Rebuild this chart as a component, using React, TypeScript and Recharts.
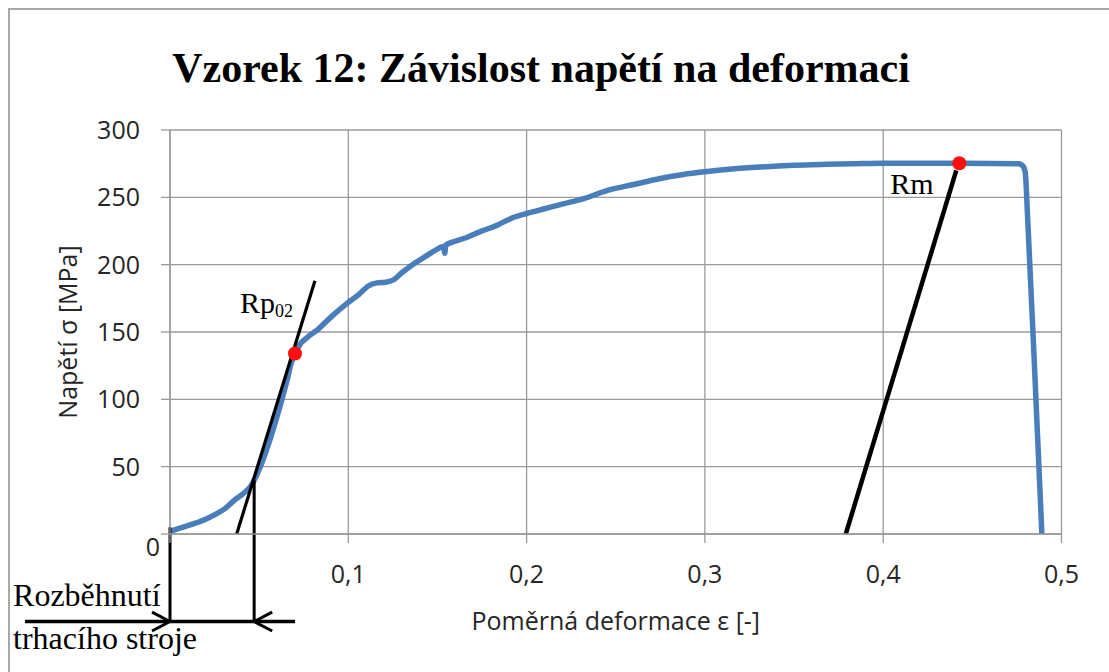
import React from 'react';
import {
  ComposedChart,
  Line,
  XAxis,
  YAxis,
  CartesianGrid,
  ReferenceLine,
  ReferenceDot,
  Label,
} from 'recharts';

// ---- data ----
const strain = [
  0, 0.006, 0.013, 0.02, 0.026, 0.031, 0.036, 0.041, 0.045, 0.048, 0.051, 0.054, 0.057, 0.06,
  0.063, 0.066, 0.068, 0.0701, 0.073, 0.077, 0.083, 0.091, 0.1, 0.106, 0.111, 0.116, 0.121,
  0.125, 0.13, 0.136, 0.142, 0.148, 0.1535, 0.1541, 0.1547, 0.159, 0.166, 0.174, 0.183, 0.1925,
  0.2, 0.21, 0.22, 0.232, 0.245, 0.26, 0.275, 0.288, 0.3, 0.315, 0.331, 0.35, 0.368, 0.385, 0.4,
  0.42, 0.4427, 0.46, 0.476, 0.4785, 0.4797, 0.481, 0.485, 0.489,
];
const stress = [
  2, 4.5, 7.5, 11, 15, 19, 25, 30, 35, 42, 51, 62, 74, 87,
  101, 116, 127, 134, 141, 146, 152, 162, 172, 178, 184, 186.5, 187,
  188.5, 194, 200, 205, 210, 213.5, 208.5, 214.5, 217, 220, 224.5, 229, 235,
  238, 241.5, 245, 249, 255, 259.5, 264, 267, 269, 271, 272.5, 273.8, 274.5, 275, 275.3,
  275.3, 275.3, 275.2, 275, 273, 268, 235, 120, 0,
];
const xTicks = [0, 0.1, 0.2, 0.3, 0.4, 0.5];
const yTicks = [0, 50, 100, 150, 200, 250, 300];

const rp02Point = { x: 0.0701, y: 134 };
const rmPoint = { x: 0.4427, y: 275.3 };
const rpTangent = [{ x: 0.0374, y: 0 }, { x: 0.0813, y: 188 }];
const rmTangent = [{ x: 0.379, y: 0 }, { x: 0.441, y: 270 }];
const startLeft = [{ x: 0, y: 5 }, { x: 0, y: -65 }];
const startRight = [{ x: 0.0472, y: 40 }, { x: 0.0472, y: -65 }];
const startArrow = [{ x: -0.0813, y: -65 }, { x: 0.0701, y: -65 }];

const curve = strain.map((x, i) => ({ x, y: stress[i] }));

const GRID = '#9a9a9a';
const TXT = '#262626';
const SANS = 'Open Sans, sans-serif';
const SERIF = 'Liberation Serif, Times New Roman, serif';

function YTick(props: any) {
  const { x, y, payload } = props;
  if (payload.value === 0) {
    return (
      <text x={x + 20} y={y + 13} dy="0.355em" textAnchor="end" fill={TXT} fontSize={25} fontFamily={SANS}>
        0
      </text>
    );
  }
  return (
    <text x={x} y={y} dy="0.355em" textAnchor="end" fill={TXT} fontSize={25} fontFamily={SANS}>
      {payload.value}
    </text>
  );
}

const fmtX = (v: number) => (v === 0 ? '' : String(v).replace('.', ','));

// arrowhead spread (data units)
const AH_DX = 0.0101;
const AH_DY = 7;

export default function App() {
  const tip1 = startLeft[0].x;
  const tip2 = startRight[0].x;
  const ay = startArrow[0].y;
  return (
    <div
      style={{
        position: 'fixed',
        left: 0,
        top: 0,
        width: 1109,
        height: 672,
        overflow: 'hidden',
        background: '#fff',
      }}
    >
      <style>{'html, body { overflow: hidden !important; }'}</style>
      <div
        style={{
          position: 'absolute',
          left: 8,
          top: 8,
          width: 1300,
          height: 900,
          borderLeft: '2px solid #a8a8a8',
          borderTop: '2px solid #a8a8a8',
        }}
      />
      <div
        style={{
          position: 'absolute',
          left: 0,
          top: 47,
          width: 1082,
          textAlign: 'center',
          fontFamily: SERIF,
          fontWeight: 'bold',
          fontSize: 42,
          lineHeight: '42px',
          color: '#000',
          whiteSpace: 'nowrap',
        }}
      >
        Vzorek 12: Závislost napětí na deformaci
      </div>
      <div style={{ position: 'absolute', left: 0, top: 0 }}>
        <ComposedChart
          width={1109}
          height={672}
          data={curve}
          margin={{ top: 130, right: 47.5, bottom: 78, left: 90 }}
        >
          <CartesianGrid stroke={GRID} strokeWidth={1.3} />
          <XAxis
            type="number"
            dataKey="x"
            domain={[0, 0.5]}
            ticks={xTicks}
            height={60}
            tickSize={9}
            tickMargin={22}
            stroke={GRID}
            strokeWidth={1.3}
            tick={{ fill: TXT, fontSize: 25, fontFamily: SANS }}
            tickFormatter={fmtX}
          >
            <Label
              content={(p: any) => {
                const vb = p.viewBox;
                return (
                  <text
                    x={vb.x + vb.width / 2}
                    y={vb.y + 96}
                    textAnchor="middle"
                    fill={TXT}
                    fontSize={25}
                    fontFamily={SANS}
                  >
                    Poměrná deformace ε [-]
                  </text>
                );
              }}
            />
          </XAxis>
          <YAxis
            type="number"
            domain={[0, 300]}
            ticks={yTicks}
            width={80}
            tickSize={9}
            tickMargin={21}
            stroke={GRID}
            strokeWidth={1.3}
            tick={<YTick />}
          >
            <Label
              content={(p: any) => {
                const vb = p.viewBox;
                const cx = vb.x - 23;
                const cy = vb.y + vb.height / 2;
                return (
                  <text
                    x={cx}
                    y={cy}
                    transform={`rotate(-90, ${cx}, ${cy})`}
                    textAnchor="middle"
                    dominantBaseline="central"
                    fill={TXT}
                    fontSize={25}
                    fontFamily={SANS}
                  >
                    Napětí σ [MPa]
                  </text>
                );
              }}
            />
          </YAxis>
          <Line
            dataKey="y"
            type="monotone"
            stroke="#4a7ebb"
            strokeWidth={5.5}
            dot={false}
            activeDot={false}
            isAnimationActive={false}
          />
          {/* machine start annotation */}
          <ReferenceLine segment={startLeft} stroke="#000" strokeWidth={3} ifOverflow="visible" />
          <ReferenceLine segment={startRight} stroke="#000" strokeWidth={3} ifOverflow="visible" />
          <ReferenceLine segment={startArrow} stroke="#000" strokeWidth={3.5} ifOverflow="visible">
            <Label
              content={(p: any) => {
                const vb = p.viewBox;
                return (
                  <text fill="#000" fontSize={32} fontFamily={SERIF}>
                    <tspan x={vb.x - 12} y={vb.y - 16}>Rozběhnutí</tspan>
                    <tspan x={vb.x - 12} y={vb.y + 27}>trhacího stroje</tspan>
                  </text>
                );
              }}
            />
          </ReferenceLine>
          <ReferenceLine
            segment={[{ x: tip1 - AH_DX, y: ay + AH_DY }, { x: tip1, y: ay }]}
            stroke="#000"
            strokeWidth={3}
            ifOverflow="visible"
          />
          <ReferenceLine
            segment={[{ x: tip1 - AH_DX, y: ay - AH_DY }, { x: tip1, y: ay }]}
            stroke="#000"
            strokeWidth={3}
            ifOverflow="visible"
          />
          <ReferenceLine
            segment={[{ x: tip2 + AH_DX, y: ay + AH_DY }, { x: tip2, y: ay }]}
            stroke="#000"
            strokeWidth={3}
            ifOverflow="visible"
          />
          <ReferenceLine
            segment={[{ x: tip2 + AH_DX, y: ay - AH_DY }, { x: tip2, y: ay }]}
            stroke="#000"
            strokeWidth={3}
            ifOverflow="visible"
          />
          {/* tangents */}
          <ReferenceLine segment={rpTangent} stroke="#000" strokeWidth={3.2} ifOverflow="visible" />
          <ReferenceLine segment={rmTangent} stroke="#000" strokeWidth={4.5} ifOverflow="visible" />
          <ReferenceDot
            x={rp02Point.x}
            y={rp02Point.y}
            r={7}
            fill="#ff1010"
            stroke="none"
            ifOverflow="visible"
          >
            <Label
              content={(p: any) => {
                const vb = p.viewBox;
                const cx = vb.x + vb.width / 2;
                const cy = vb.y + vb.height / 2;
                return (
                  <text x={cx - 55} y={cy - 41} fill="#000" fontSize={30} fontFamily={SERIF}>
                    Rp
                    <tspan fontSize={18} dy={4}>02</tspan>
                  </text>
                );
              }}
            />
          </ReferenceDot>
          <ReferenceDot
            x={rmPoint.x}
            y={rmPoint.y}
            r={7}
            fill="#ff1010"
            stroke="none"
            ifOverflow="visible"
          >
            <Label
              content={(p: any) => {
                const vb = p.viewBox;
                const cx = vb.x + vb.width / 2;
                const cy = vb.y + vb.height / 2;
                return (
                  <text x={cx - 69} y={cy + 31} fill="#000" fontSize={30} fontFamily={SERIF}>
                    Rm
                  </text>
                );
              }}
            />
          </ReferenceDot>
        </ComposedChart>
      </div>
    </div>
  );
}
